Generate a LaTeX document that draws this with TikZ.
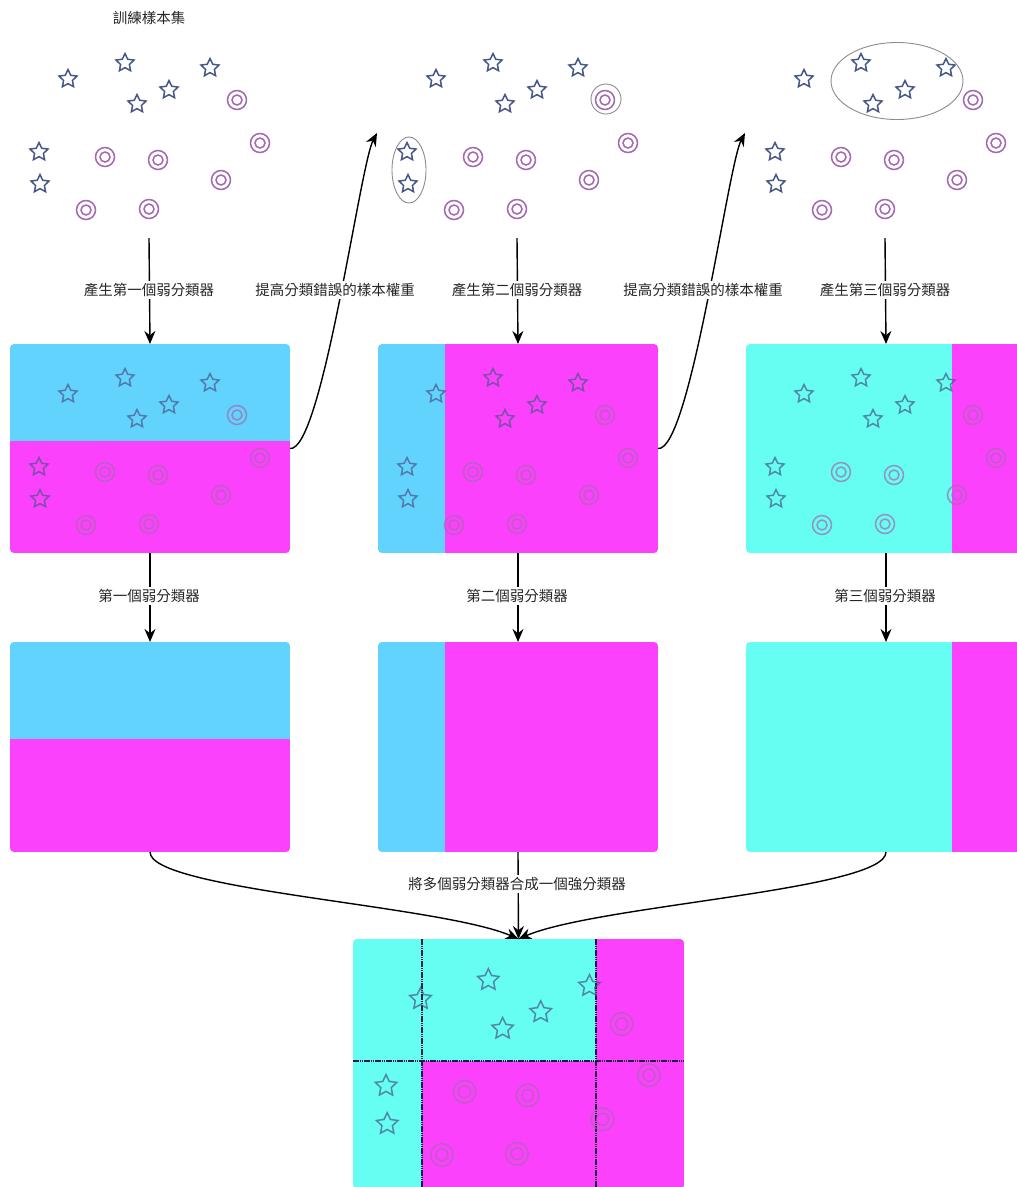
\documentclass[tikz,border=0pt]{standalone}
\usepackage{fontspec}
\newfontfamily\cjk{Noto Sans CJK TC}
\usetikzlibrary{shapes.geometric,arrows.meta}
\definecolor{starc}{HTML}{48578A}
\definecolor{ringc}{HTML}{A468B0}
\definecolor{lblue}{HTML}{62D3FD}
\definecolor{mag}{HTML}{FC41FC}
\definecolor{aqua}{HTML}{66FDF2}
\definecolor{txt}{HTML}{262626}
\definecolor{gridc}{HTML}{1C1C40}
\definecolor{loop}{HTML}{8C8C8C}

\tikzset{
  starmk/.style={star, star points=5, star point ratio=2.05, draw=starc,
    line width=1.5pt, inner sep=0pt, outer sep=0pt},
  ringmk/.style={circle, draw=ringc, line width=1.5pt, inner sep=0pt, outer sep=0pt},
  lbl/.style={font=\cjk\fontsize{14.5}{17}\selectfont, text=txt, fill=white, inner sep=2pt},
  boxnode/.style={rectangle, inner sep=0pt, outer sep=0pt},
  arr/.style={line width=1.4pt, -{Stealth[length=13pt,width=11pt]}},
  loopmk/.style={draw=loop, line width=0.9pt, inner sep=0pt},
  split/.style={gridc, line width=1.1pt, dash pattern=on 1.5pt off 0.7pt}
}

% One scattered set of samples: #1,#2 offset, #3 scale, #4 name prefix, #5 extra options
\newcommand\samplecloud[5]{%
  \foreach \x/\y [count=\k] in {68/79,125/63,210/68,169/90,137/104,39/152,40/184}{
    \node[starmk,minimum size=#3*19pt,#5] (#4s\k) at (#1+#3*\x,#2+#3*\y) {};}
  \foreach \x/\y [count=\k] in {237/100,260/143,105/157,158/160,221/180,86/210,149/209}{
    \node[ringmk,minimum size=#3*19pt,#5] (#4r\k) at (#1+#3*\x,#2+#3*\y) {};
    \draw[ringc,line width=1.5pt,#5] (#4r\k.center) circle[radius=#3*5pt];}
}

\begin{document}
\begin{tikzpicture}[x=1pt,y=-1pt]
\clip (0,0) rectangle (1017,1187);
\fill[white] (0,0) rectangle (1017,1187);

% ---------- training sets ----------
\node[lbl] (title) at (149,18) {訓練樣本集};
\samplecloud{0}{0}{1}{a}{}
\samplecloud{368}{0}{1}{b}{}
\samplecloud{736}{0}{1}{c}{}
\node[ellipse,loopmk,minimum width=34pt,minimum height=66pt] (e1) at (409,170) {};
\node[circle,loopmk,minimum size=30pt] (e2) at (606,99) {};
\node[ellipse,loopmk,minimum width=132pt,minimum height=77pt] (e3) at (897,81) {};

\coordinate (s1) at (149,238);
\coordinate (s2) at (517,238);
\coordinate (s3) at (885,238);
\coordinate (t2) at (377,133);
\coordinate (t3) at (745,133);

% ---------- weak classifiers with samples ----------
\node[boxnode,minimum width=280pt,minimum height=209pt] (b1) at (150,448.5) {};
\node[boxnode,minimum width=280pt,minimum height=209pt] (b2) at (518,448.5) {};
\node[boxnode,minimum width=280pt,minimum height=209pt] (b3) at (886,448.5) {};
\begin{scope}
  \clip[rounded corners=4pt] (b1.north west) rectangle (b1.south east);
  \fill[lblue] (10,344) rectangle (290,441);
  \fill[mag] (10,441) rectangle (290,553);
\end{scope}
\begin{scope}
  \clip[rounded corners=4pt] (b2.north west) rectangle (b2.south east);
  \fill[lblue] (378,344) rectangle (445,553);
  \fill[mag] (445,344) rectangle (658,553);
\end{scope}
\begin{scope}
  \clip[rounded corners=4pt] (b3.north west) rectangle (b3.south east);
  \fill[aqua] (746,344) rectangle (952,553);
  \fill[mag] (952,344) rectangle (1026,553);
\end{scope}
\samplecloud{0}{315}{1}{d}{opacity=0.7}
\samplecloud{368}{315}{1}{e}{opacity=0.7}
\samplecloud{736}{315}{1}{f}{opacity=0.7}

% ---------- weak classifiers ----------
\node[boxnode,minimum width=280pt,minimum height=210pt] (c1) at (150,747) {};
\node[boxnode,minimum width=280pt,minimum height=210pt] (c2) at (518,747) {};
\node[boxnode,minimum width=280pt,minimum height=210pt] (c3) at (886,747) {};
\begin{scope}
  \clip[rounded corners=4pt] (c1.north west) rectangle (c1.south east);
  \fill[lblue] (10,642) rectangle (290,739);
  \fill[mag] (10,739) rectangle (290,852);
\end{scope}
\begin{scope}
  \clip[rounded corners=4pt] (c2.north west) rectangle (c2.south east);
  \fill[lblue] (378,642) rectangle (445,852);
  \fill[mag] (445,642) rectangle (658,852);
\end{scope}
\begin{scope}
  \clip[rounded corners=4pt] (c3.north west) rectangle (c3.south east);
  \fill[aqua] (746,642) rectangle (952,852);
  \fill[mag] (952,642) rectangle (1026,852);
\end{scope}

% ---------- strong classifier ----------
\node[boxnode,minimum width=331pt,minimum height=250pt] (f) at (518.5,1064) {};
\begin{scope}
  \clip[rounded corners=4pt] (f.north west) rectangle (f.south east);
  \fill[aqua] (353,939) rectangle (684,1189);
  \fill[mag] (596,939) rectangle (684,1189);
  \fill[mag] (422,1061) rectangle (596,1189);
\end{scope}
\draw[split] (422,939) -- (422,1189);
\draw[split] (596,939) -- (596,1189);
\draw[split] (353,1061) -- (684,1061);
\samplecloud{339.6}{905}{1.19}{g}{opacity=0.7}

% ---------- connectors ----------
\draw[arr] (s1) -- (b1.north);
\draw[arr] (s2) -- (b2.north);
\draw[arr] (s3) -- (b3.north);
\draw[arr] (b1.east) .. controls (322,452) and (360,165) .. (t2);
\draw[arr] (b2.east) .. controls (690,452) and (728,165) .. (t3);
\draw[arr] (b1.south) -- (c1.north);
\draw[arr] (b2.south) -- (c2.north);
\draw[arr] (b3.south) -- (c3.north);
\draw[arr] (c1.south) .. controls (150,890) and (440,905) .. (f.north);
\draw[arr] (c3.south) .. controls (886,890) and (597,905) .. (f.north);
\draw[arr] (c2.south) -- (f.north);

% ---------- labels ----------
\node[lbl] (l1) at (149,290) {產生第一個弱分類器};
\node[lbl] (l2) at (517,290) {產生第二個弱分類器};
\node[lbl] (l3) at (885,290) {產生第三個弱分類器};
\node[lbl] (w1) at (335,290) {提高分類錯誤的樣本權重};
\node[lbl] (w2) at (703,290) {提高分類錯誤的樣本權重};
\node[lbl] (k1) at (149,596) {第一個弱分類器};
\node[lbl] (k2) at (517,596) {第二個弱分類器};
\node[lbl] (k3) at (885,596) {第三個弱分類器};
\node[lbl] (m) at (517,884) {將多個弱分類器合成一個強分類器};
\end{tikzpicture}
\end{document}
